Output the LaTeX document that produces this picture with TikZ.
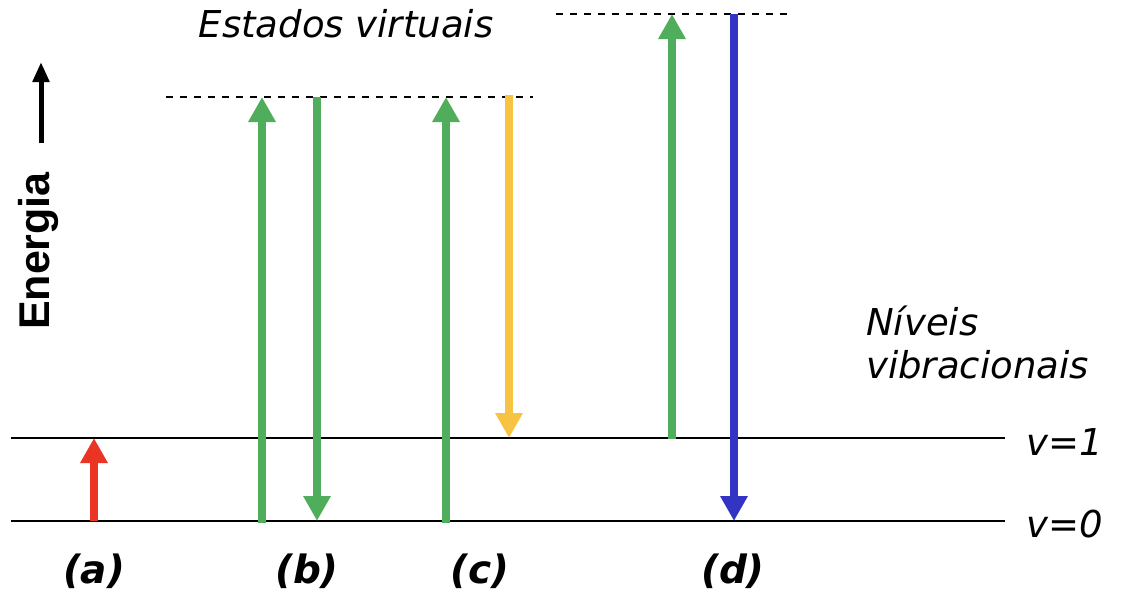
\documentclass[tikz,border=0pt]{standalone}
\usepackage{fontspec}
\setmainfont{DejaVu Sans}
\newfontfamily\arialf{Liberation Sans}
\usetikzlibrary{arrows.meta}
\definecolor{cred}{RGB}{234,52,36}
\definecolor{cgreen}{RGB}{80,173,91}
\definecolor{cyellow}{RGB}{246,196,66}
\definecolor{cblue}{RGB}{51,51,196}
\tikzset{
  level/.style={line width=2pt},
  virt/.style={line width=1.5pt, dash pattern=on 7pt off 7pt},
  trans/.style={line width=8.5pt, -{Triangle[width=26pt,length=25pt]}},
  lbl/.style={font=\fontsize{37}{43}\selectfont\itshape, inner sep=0pt},
  plbl/.style={font=\fontsize{39}{44}\selectfont\bfseries\itshape, inner sep=0pt},
}
\begin{document}
\begin{tikzpicture}[x=1pt,y=-1pt]
\useasboundingbox (0,0) rectangle (1129,598);
% levels
\coordinate (l0a) at (11,521); \coordinate (l0b) at (1005,521);
\coordinate (l1a) at (11,438); \coordinate (l1b) at (1005,438);
\draw[level] (l0a) -- (l0b);
\draw[level] (l1a) -- (l1b);
% virtual states
\coordinate (va) at (166,97); \coordinate (vb) at (533,97);
\coordinate (wa) at (556,14); \coordinate (wb) at (789,14);
\draw[virt] (va) -- (vb);
\draw[virt] (wa) -- (wb);
% (a)
\coordinate (a0) at (94,521); \coordinate (a1) at (94,438);
\draw[trans, cred] (a0) -- (a1);
% (b)
\coordinate (b0) at (262,523); \coordinate (b1) at (262,97);
\coordinate (b2) at (317,97); \coordinate (b3) at (317,521);
\draw[trans, cgreen] (b0) -- (b1);
\draw[trans, cgreen] (b2) -- (b3);
% (c)
\coordinate (c0) at (446,523); \coordinate (c1) at (446,97);
\coordinate (c2) at (509,95); \coordinate (c3) at (509,438);
\draw[trans, cgreen] (c0) -- (c1);
\draw[trans, cyellow] (c2) -- (c3);
% (d)
\coordinate (d0) at (672,439); \coordinate (d1) at (672,14);
\coordinate (d2) at (734,14); \coordinate (d3) at (734,521);
\draw[trans, cgreen] (d0) -- (d1);
\draw[trans, cblue] (d2) -- (d3);
% energy axis
\coordinate (e0) at (41,143); \coordinate (e1) at (41,62);
\draw[line width=5pt, -{Triangle[width=16pt,length=20pt]}] (e0) -- (e1);
\node[rotate=90, inner sep=0pt, font=\fontsize{43}{46}\selectfont\arialf\bfseries] (energia) at (38,251) {Energia};
% texts
\node[lbl] (estados) at (346,24) {Estados virtuais};
\node[lbl, anchor=base west, align=left] (niveis) at (866,378) {Níveis\\vibracionais};
\node[lbl, anchor=base east] (v1) at (1103,455) {v=1};
\node[lbl, anchor=base east] (v0) at (1103,537) {v=0};
\node[plbl, anchor=base] (la) at (94,583) {(a)};
\node[plbl, anchor=base] (lb) at (307,583) {(b)};
\node[plbl, anchor=base] (lc) at (480,583) {(c)};
\node[plbl, anchor=base] (ld) at (733,583) {(d)};
\end{tikzpicture}
\end{document}
